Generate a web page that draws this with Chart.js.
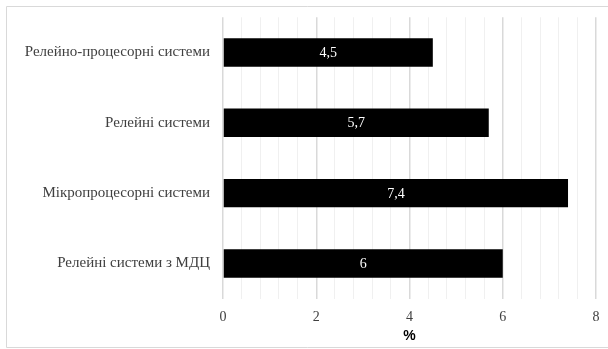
<!DOCTYPE html>
<html>
<head>
<meta charset="utf-8">
<script src="https://cdn.jsdelivr.net/npm/chart.js@4"></script>
<style>
  html, body { margin: 0; padding: 0; background: #fff; }
  #wrap { width: 608px; height: 349px; position: relative; }
</style>
</head>
<body>
<div id="wrap"><canvas id="c" width="608" height="349"></canvas></div>
<script>
const categories = [
  'Релейно-процесорні системи',
  'Релейні системи',
  'Мікропроцесорні системи',
  'Релейні системи з МДЦ'
];
const shares = [4.5, 5.7, 7.4, 6];
const tickLabels = [0, 2, 4, 6, 8];

const SERIF = '"Liberation Serif", "Times New Roman", serif';

// light frame around the whole chart (open on the right side)
const framePlugin = {
  id: 'frame',
  beforeDraw(chart) {
    const ctx = chart.ctx;
    ctx.save();
    ctx.strokeStyle = '#d9d9d9';
    ctx.lineWidth = 1;
    ctx.beginPath();
    ctx.moveTo(612, 6.5);
    ctx.lineTo(6.5, 6.5);
    ctx.lineTo(6.5, 347.5);
    ctx.lineTo(612, 347.5);
    ctx.stroke();
    ctx.restore();
  }
};

// value written in white at the middle of each bar
const valueLabels = {
  id: 'valueLabels',
  afterDatasetsDraw(chart) {
    const ctx = chart.ctx;
    const meta = chart.getDatasetMeta(0);
    ctx.save();
    ctx.fillStyle = '#ffffff';
    ctx.font = '14px ' + SERIF;
    ctx.textAlign = 'center';
    ctx.textBaseline = 'middle';
    meta.data.forEach((bar, i) => {
      const v = chart.data.datasets[0].data[i];
      const x = (bar.base + bar.x) / 2;
      ctx.fillText(String(v).replace('.', ','), x, bar.y + 1);
    });
    ctx.restore();
  }
};

const isMajor = (v) => tickLabels.includes(Math.round(v * 10) / 10);

new Chart(document.getElementById('c'), {
  type: 'bar',
  data: {
    labels: categories,
    datasets: [{
      data: shares,
      backgroundColor: '#000000',
      borderWidth: 0,
      categoryPercentage: 0.404,
      barPercentage: 1.0
    }]
  },
  options: {
    indexAxis: 'y',
    responsive: false,
    animation: false,
    layout: { padding: { top: 17.3, right: 12, bottom: 0, left: 0 } },
    plugins: {
      legend: { display: false },
      tooltip: { enabled: false }
    },
    scales: {
      x: {
        min: 0,
        max: 8,
        ticks: {
          stepSize: 0.4,
          autoSkip: false,
          maxRotation: 0,
          color: '#404040',
          font: { family: SERIF, size: 14 },
          padding: 10,
          callback: (v) => {
            const r = Math.round(v * 10) / 10;
            return tickLabels.includes(r) ? String(r) : '';
          }
        },
        grid: {
          drawTicks: false,
          color: (c) => isMajor(c.tick.value) ? '#d9d9d9' : '#f0f0f0',
          lineWidth: (c) => isMajor(c.tick.value) ? 1.5 : 1
        },
        border: { display: false },
        title: {
          display: true,
          text: '%',
          color: '#000000',
          font: { family: '"Liberation Sans", Arial, sans-serif', size: 14, weight: 'bold' },
          padding: { top: 0, bottom: 4 }
        },
        afterFit(scale) {
          scale.height = 50.4;
          scale.paddingLeft = 0;
          scale.paddingRight = 0;
        }
      },
      y: {
        ticks: {
          color: '#404040',
          font: { family: SERIF, size: 15 },
          padding: 13
        },
        grid: { display: false, drawTicks: false },
        border: { display: false },
        afterFit(scale) {
          scale.width = 223;
          scale.paddingTop = 0;
          scale.paddingBottom = 0;
        }
      }
    }
  },
  plugins: [framePlugin, valueLabels]
});
</script>
</body>
</html>
